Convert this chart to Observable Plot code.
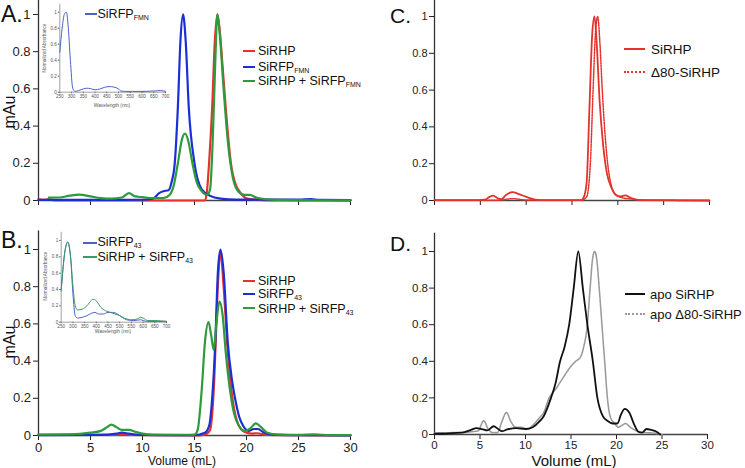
<!DOCTYPE html>
<html><head><meta charset="utf-8">
<script src="https://cdn.jsdelivr.net/npm/d3@7"></script>
<script src="https://cdn.jsdelivr.net/npm/@observablehq/plot@0.6"></script>
<style>
body{margin:0;background:#fff;font-family:"Liberation Sans",Arial,sans-serif}
#wrap{position:relative;width:745px;height:468px;overflow:hidden;background:#fff}
.lbl{position:absolute;white-space:nowrap;line-height:1;color:#111;font-family:"Liberation Sans",Arial,sans-serif}
.sub{font-size:0.56em;position:relative;top:0.28em;line-height:0}
.sw{position:absolute;height:0}
</style></head><body><div id="wrap"></div>
<script>
// ---------- tick values ----------
const volumeTicks = [0, 5, 10, 15, 20, 25, 30];
const mAuTicks = [0, 0.2, 0.4, 0.6, 0.8, 1];
const waveTicks = [250, 300, 350, 400, 450, 500, 550, 600, 650, 700];

// ---------- Panel A: [volume mL, mAu] ----------
const A_SiRHP = [[0,0.008],[0.5,0.003],[1,0.008],[1.5,0],[10,0],[16.0,0],[16.2,0.05],[16.4,0.2],[16.7,0.5],[16.95,0.85],[17.2,1.0],[17.45,0.9],[17.7,0.72],[18.0,0.5],[18.5,0.2],[19.0,0.08],[19.3,0.05],[20,0.012],[21,0.004],[22,0.001],[30,0]];
const A_SiRFP_FMN = [[0,0.003],[5,0.003],[10,0.004],[11,0.01],[11.6,0.04],[12.0,0.05],[12.5,0.055],[12.8,0.1],[13.1,0.2],[13.4,0.5],[13.65,0.86],[13.9,1.0],[14.15,0.86],[14.45,0.5],[15.0,0.2],[15.7,0.06],[16.5,0.025],[17.5,0.01],[19,0.005],[25,0.005],[26.2,0.008],[27,0.003],[30,0.002]];
const A_Complex = [[1,0.015],[2,0.016],[3,0.026],[3.9,0.032],[5,0.022],[6,0.013],[7,0.01],[8,0.016],[8.7,0.04],[9.3,0.022],[10,0.018],[11,0.013],[12,0.013],[12.6,0.03],[13.0,0.08],[13.4,0.2],[13.8,0.33],[14.1,0.36],[14.4,0.32],[14.8,0.2],[15.2,0.1],[15.7,0.05],[16.2,0.03],[16.5,0.06],[16.8,0.4],[17.0,0.75],[17.2,1.0],[17.45,0.88],[17.8,0.6],[18.2,0.32],[18.7,0.12],[19.2,0.05],[19.8,0.03],[20.3,0.03],[21,0.015],[22,0.006],[23,0.003],[25,0.002],[30,0.001]];

// ---------- Panel A inset: [wavelength nm, normalized absorbance] ----------
const insetA_SiRFP_FMN = [[250,0.5],[260,0.8],[270,0.98],[278,1.0],[285,0.85],[295,0.4],[305,0.05],[315,0.01],[330,0.02],[350,0.04],[365,0.05],[380,0.045],[400,0.03],[420,0.04],[440,0.06],[460,0.07],[480,0.065],[500,0.04],[510,0.015],[530,0.01],[560,0.01],[600,0.01],[650,0.015],[680,0.02],[700,0.01]];

// ---------- Panel B ----------
const B_SiRHP = [[0,0.003],[5,0.003],[7,0.003],[8,0.006],[9,0.003],[15,0],[16,0.005],[16.5,0.03],[16.9,0.3],[17.2,0.75],[17.5,0.99],[17.8,0.8],[18.2,0.45],[18.7,0.18],[19.2,0.06],[19.8,0.02],[20.5,0.01],[21,0.012],[22,0.003],[25,0.002],[30,0]];
const B_SiRFP43 = [[0,0.002],[6,0.003],[7.5,0.01],[8,0.015],[8.7,0.01],[10,0.003],[15,0.002],[16,0.015],[16.4,0.05],[16.7,0.2],[17.0,0.5],[17.25,0.88],[17.5,1.0],[17.8,0.88],[18.2,0.5],[18.6,0.3],[18.9,0.2],[19.3,0.1],[19.7,0.05],[20.2,0.025],[20.7,0.035],[21.1,0.035],[21.7,0.015],[22.5,0.005],[25,0.002],[30,0.001]];
const B_Complex = [[0,0.005],[3,0.006],[5,0.015],[6,0.025],[6.6,0.045],[7.0,0.058],[7.5,0.045],[8.0,0.03],[8.7,0.03],[9.3,0.02],[10,0.01],[11,0.005],[14,0.004],[15,0.005],[15.3,0.03],[15.7,0.25],[16.0,0.5],[16.35,0.61],[16.6,0.54],[16.85,0.46],[17.1,0.6],[17.4,0.72],[17.7,0.65],[18.0,0.45],[18.4,0.25],[18.8,0.12],[19.3,0.05],[19.8,0.025],[20.3,0.035],[20.9,0.065],[21.4,0.045],[22,0.015],[23,0.005],[25,0.003],[26.5,0.006],[28,0.002],[30,0.002]];

// ---------- Panel B inset ----------
const insetB_SiRFP43 = [[250,0.4],[265,0.85],[278,0.98],[290,0.8],[300,0.35],[310,0.08],[320,0.05],[340,0.06],[360,0.08],[380,0.11],[395,0.12],[410,0.1],[430,0.1],[450,0.12],[470,0.12],[490,0.1],[510,0.06],[530,0.03],[560,0.02],[590,0.03],[600,0.02],[620,0.01],[700,0.01]];
const insetB_Complex = [[250,0.38],[265,0.85],[278,0.98],[290,0.8],[300,0.45],[310,0.2],[320,0.15],[340,0.16],[360,0.2],[380,0.27],[390,0.28],[400,0.26],[420,0.18],[440,0.14],[460,0.12],[480,0.1],[500,0.08],[520,0.05],[550,0.03],[575,0.04],[590,0.06],[600,0.05],[620,0.02],[650,0.02],[700,0.01]];

// ---------- Panel C ----------
const C_SiRHP = [[0,0.002],[4,0.002],[5.5,0.005],[6.0,0.02],[6.4,0.026],[6.9,0.012],[7.3,0.008],[7.8,0.03],[8.5,0.045],[9.2,0.035],[10,0.02],[11,0.005],[12,0.002],[16,0.002],[16.3,0.02],[16.6,0.1],[16.9,0.5],[17.2,0.9],[17.45,1.0],[17.7,0.85],[18.0,0.55],[18.4,0.3],[18.8,0.15],[19.3,0.07],[19.8,0.03],[20.3,0.022],[20.8,0.028],[21.4,0.015],[22,0.005],[23,0.002],[30,0]];
const C_d80SiRHP = [[0,0.001],[7,0.002],[8.5,0.01],[10,0.003],[16,0.001],[16.6,0.02],[17.0,0.2],[17.3,0.6],[17.55,0.9],[17.8,1.0],[18.05,0.85],[18.3,0.6],[18.7,0.3],[19.2,0.1],[19.8,0.03],[20.5,0.015],[21.5,0.008],[23,0.002],[30,0]];

// ---------- Panel D ----------
const D_apoSiRHP = [[0,0.005],[1,0.004],[2,0.008],[3,0.01],[4,0.025],[4.6,0.035],[5.2,0.03],[5.8,0.022],[6.5,0.045],[7.0,0.03],[7.4,0.018],[8,0.028],[9,0.035],[10,0.03],[10.8,0.04],[11.5,0.07],[12,0.1],[12.8,0.2],[13.3,0.28],[13.8,0.4],[14.3,0.48],[14.8,0.6],[15.3,0.8],[15.8,1.0],[16.3,0.8],[16.8,0.6],[17.4,0.4],[17.9,0.2],[18.5,0.1],[19.0,0.075],[19.6,0.06],[20.1,0.06],[20.5,0.11],[20.9,0.14],[21.4,0.12],[21.9,0.06],[22.4,0.015],[22.8,0.01],[23.3,0.03],[23.8,0.025],[24.4,0.015],[24.8,0.0]];
const D_apoD80SiRHP = [[0,0.008],[2,0.01],[3,0.01],[4,0.015],[4.8,0.02],[5.4,0.075],[5.9,0.03],[6.4,0.01],[6.9,0.01],[7.4,0.07],[7.9,0.12],[8.4,0.07],[8.9,0.04],[9.5,0.04],[10.2,0.03],[10.8,0.05],[11.5,0.09],[12.0,0.12],[12.6,0.2],[13.2,0.24],[14.0,0.3],[14.8,0.36],[15.5,0.4],[16.0,0.42],[16.4,0.48],[16.8,0.6],[17.1,0.8],[17.4,0.97],[17.6,1.0],[17.85,0.95],[18.1,0.8],[18.4,0.6],[18.7,0.4],[19.0,0.2],[19.3,0.1],[19.8,0.06],[20.2,0.04],[20.6,0.05],[21.0,0.06],[21.5,0.04],[22.2,0.02],[23,0.01],[24,0.008],[25,0]];

// ---------- colours ----------
const RED = "#e5322d", BLUE = "#1b2fd6", GREEN = "#2d9a3b", INSET_BLUE = "#4a62c8", INSET_GREEN = "#3a9a6a", GRAY = "#9a9a9a";

const wrap = document.getElementById("wrap");
const fmt = d => d === 0 ? "0" : d === 1 ? "1" : d.toFixed(1);

function place(svg, left, top) {
  svg.style.position = "absolute";
  svg.style.left = left + "px";
  svg.style.top = top + "px";
  wrap.appendChild(svg);
}
function curve(data, stroke, extra = {}) {
  return Plot.line(data, {x: d => d[0], y: d => d[1], stroke, strokeWidth: 2.2, curve: "monotone-x", ...extra});
}
function mainPanel({left, top, width, height, mL, mR, mT, mB, ymax, showX, fs, tickPad, lines}) {
  const svg = Plot.plot({
    width, height, marginLeft: mL, marginRight: mR, marginTop: mT, marginBottom: mB,
    x: {domain: [0, 30], ticks: volumeTicks, tickSize: 5, tickPadding: tickPad, label: null,
        tickFormat: showX ? (d => String(d)) : (() => "")},
    y: {domain: [0, ymax], ticks: mAuTicks, tickSize: 5, tickPadding: tickPad, label: null, tickFormat: fmt},
    style: {fontSize: fs + "px", fontFamily: "Liberation Sans, Arial, sans-serif", color: "#222", background: "transparent", overflow: "visible"},
    marks: [
      Plot.ruleX([0], {stroke: "#333", strokeWidth: 1.3}),
      Plot.ruleY([0], {stroke: "#444", strokeWidth: 1.3}),
      ...lines
    ]
  });
  place(svg, left, top);
}
function insetPanel({left, top, width, height, mL, mR, mT, mB, lines}) {
  const svg = Plot.plot({
    width, height, marginLeft: mL, marginRight: mR, marginTop: mT, marginBottom: mB,
    x: {domain: [250, 700], ticks: waveTicks, tickSize: 1.5, tickPadding: 1.5, label: null},
    y: {domain: [0, 1.1], ticks: mAuTicks, tickSize: 1.5, tickPadding: 1.5, label: null, tickFormat: fmt},
    style: {fontSize: "4.6px", fontFamily: "Liberation Sans, Arial, sans-serif", color: "#555", background: "transparent", overflow: "visible"},
    marks: [
      Plot.ruleX([250], {stroke: "#888", strokeWidth: 0.8}),
      Plot.ruleY([0], {stroke: "#888", strokeWidth: 0.8}),
      ...lines
    ]
  });
  place(svg, left, top);
}

// Panel A
mainPanel({left: 0, top: 0, width: 372, height: 220, mL: 38, mR: 22, mT: 0, mB: 20, ymax: 1.075, showX: false, fs: 13, tickPad: 3,
  lines: [curve(A_SiRHP, RED), curve(A_SiRFP_FMN, BLUE), curve(A_Complex, GREEN)]});
// Panel B
mainPanel({left: 0, top: 220, width: 372, height: 248, mL: 38, mR: 22, mT: 10.4, mB: 33, ymax: 1.1, showX: true, fs: 13, tickPad: 2.5,
  lines: [curve(B_SiRHP, RED), curve(B_SiRFP43, BLUE), curve(B_Complex, GREEN)]});
// Panel C
mainPanel({left: 372, top: 0, width: 373, height: 215, mL: 62, mR: 36, mT: 0, mB: 15, ymax: 1.087, showX: false, fs: 11, tickPad: 2,
  lines: [curve(C_d80SiRHP, RED, {strokeWidth: 1.5, strokeDasharray: "1.5,1.2"}), curve(C_SiRHP, RED, {strokeWidth: 1.8})]});
// Panel D
mainPanel({left: 372, top: 220, width: 373, height: 248, mL: 62, mR: 38, mT: 12.7, mB: 34, ymax: 1.1, showX: true, fs: 11.5, tickPad: 1.5,
  lines: [curve(D_apoD80SiRHP, GRAY, {strokeWidth: 1.6, strokeDasharray: "1.2,0.9"}), curve(D_apoSiRHP, "#111", {strokeWidth: 1.8})]});

// Insets
insetPanel({left: 40, top: 0, width: 140, height: 112, mL: 19.3, mR: 15, mT: 3.7, mB: 20.3,
  lines: [curve(insetA_SiRFP_FMN, INSET_BLUE, {strokeWidth: 1})]});
insetPanel({left: 40, top: 225, width: 140, height: 115, mL: 20.7, mR: 14, mT: 6.8, mB: 18.3,
  lines: [curve(insetB_SiRFP43, INSET_BLUE, {strokeWidth: 1}), curve(insetB_Complex, INSET_GREEN, {strokeWidth: 1})]});

// ---------- text labels ----------
function label(html, x, baseline, size, opts = {}) {
  const d = document.createElement("div");
  d.className = "lbl";
  d.innerHTML = html;
  d.style.fontSize = size + "px";
  d.style.left = x + "px";
  d.style.top = (baseline - 0.85 * size) + "px";
  if (opts.color) d.style.color = opts.color;
  let tf = "";
  if (opts.anchor === "middle") tf += "translateX(-50%) ";
  if (opts.rotate) { tf = "translate(-50%,-50%) rotate(-90deg)"; d.style.top = baseline + "px"; d.style.transformOrigin = "center"; }
  if (tf) d.style.transform = tf;
  wrap.appendChild(d);
}
function swatch(x1, x2, y, color, width, style = "solid") {
  const d = document.createElement("div");
  d.className = "sw";
  d.style.left = x1 + "px";
  d.style.top = (y - width / 2) + "px";
  d.style.width = (x2 - x1) + "px";
  d.style.borderTop = width + "px " + style + " " + color;
  wrap.appendChild(d);
}

// panel letters
label("A.", 1, 23, 23);
label("B.", 1, 249, 23);
label("C.", 390, 23, 21);
label("D.", 390, 251, 21);
// axis titles
label("mAu", 10, 112, 16, {rotate: true});
label("mAu", 10, 342, 16, {rotate: true});
label("Volume (mL)", 182, 465.5, 12, {anchor: "middle"});
label("Volume (mL)", 574, 465.5, 15, {anchor: "middle"});

// inset axis titles
label("Wavelength (nm)", 112, 108, 4.8, {anchor: "middle", color: "#555"});
label("Normalized Absorbance", 45, 48, 4.6, {rotate: true, color: "#555"});
label("Wavelength (nm)", 113, 334, 4.8, {anchor: "middle", color: "#555"});
label("Normalized Absorbance", 46, 276, 4.6, {rotate: true, color: "#555"});

// legend A
swatch(243, 255, 51, RED, 2.5); label("SiRHP", 258, 55.5, 12.5);
swatch(243, 255, 67.5, BLUE, 2.5); label('SiRFP<span class="sub">FMN</span>', 258, 71.5, 12.5);
swatch(243, 255, 81, GREEN, 2.5); label('SiRHP + SiRFP<span class="sub">FMN</span>', 258, 86, 12.5);
// inset A legend
swatch(85, 97, 14, INSET_BLUE, 2); label('SiRFP<span class="sub">FMN</span>', 97.5, 18.5, 12.5);

// legend B
swatch(243, 255, 281, RED, 2.5); label("SiRHP", 258, 285.5, 12.5);
swatch(243, 255, 294.5, BLUE, 2.5); label('SiRFP<span class="sub">43</span>', 258, 298.5, 12.5);
swatch(243, 255, 308.5, GREEN, 2.5); label('SiRHP + SiRFP<span class="sub">43</span>', 258, 313.5, 12.5);
// inset B legend
swatch(83, 97, 243, INSET_BLUE, 2); label('SiRFP<span class="sub">43</span>', 97.5, 247, 12.5);
swatch(83, 97, 257, INSET_GREEN, 2); label('SiRHP + SiRFP<span class="sub">43</span>', 97.5, 262, 12.5);

// legend C
swatch(624, 645, 49, RED, 2.5); label("SiRHP", 651, 54, 13.5);
swatch(624, 645, 72, RED, 2, "dotted"); label("\u039480-SiRHP", 651, 77, 13.5);
// legend D
swatch(625, 645, 294, "#111", 2); label("apo SiRHP", 650, 299, 13);
swatch(625, 645, 314, GRAY, 2, "dotted"); label("apo \u039480-SiRHP", 650, 319, 13);
</script>
</body></html>
